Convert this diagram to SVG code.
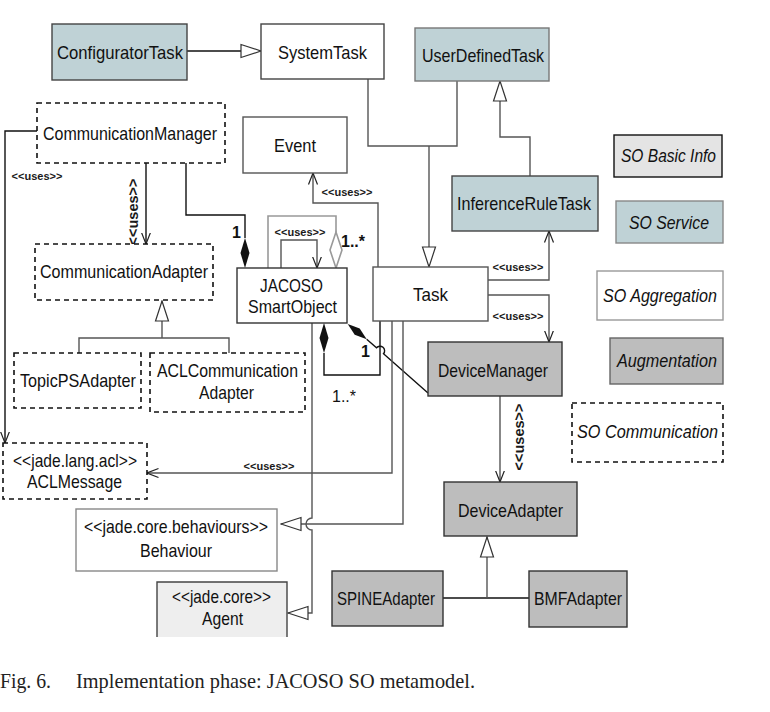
<svg xmlns="http://www.w3.org/2000/svg" width="770" height="712" viewBox="0 0 770 712">
<style>
  .t{font-family:"Liberation Sans",Arial,sans-serif;font-size:19px;fill:#111;text-anchor:middle}
  .i{font-style:italic}
  .u{font-family:"Liberation Sans",Arial,sans-serif;font-size:11px;font-weight:bold;fill:#1a1a1a;text-anchor:middle}
  .ur{font-family:"Liberation Sans",Arial,sans-serif;font-size:14.5px;font-weight:bold;fill:#1a1a1a;text-anchor:middle}
  .m{font-family:"Liberation Sans",Arial,sans-serif;font-size:16px;font-weight:bold;fill:#111}
  .mr{font-family:"Liberation Sans",Arial,sans-serif;font-size:16px;fill:#111}
  .teal{fill:#bfd2d6;stroke:#444;stroke-width:1.4}
  .gray{fill:#bdbdbd;stroke:#333;stroke-width:1.4}
  .white{fill:#fff;stroke:#444;stroke-width:1.4}
  .dash{fill:#fff;stroke:#111;stroke-width:1.6;stroke-dasharray:5 4}
  .c{fill:none;stroke:#555;stroke-width:1.4}
  .k{fill:none;stroke:#111;stroke-width:1.4}
  .cap{font-family:"Liberation Serif","Times New Roman",serif;font-size:21px;fill:#222}
</style>
<defs>
  <marker id="open" viewBox="0 0 12 12" refX="11.5" refY="6" markerWidth="12" markerHeight="12" markerUnits="userSpaceOnUse" orient="auto">
    <path d="M0,1.5 L11.5,6 L0,10.5" fill="none" stroke="#222" stroke-width="1.2"/>
  </marker>
  <marker id="tri" viewBox="0 0 22 16" refX="21" refY="8" markerWidth="22" markerHeight="16" markerUnits="userSpaceOnUse" orient="auto">
    <path d="M1,1.5 L21,8 L1,14.5 Z" fill="#fff" stroke="#333" stroke-width="1.2"/>
  </marker>
</defs>
<rect width="770" height="712" fill="#fff"/>

<g id="connectors">
  <path class="k" d="M187,51 H261" marker-end="url(#tri)"/>
  <path class="c" d="M368,79 V146 H457 V81"/>
  <path class="c" d="M429,146 V267" marker-end="url(#tri)"/>
  <path class="c" d="M530,176 V137 H500 V81" marker-end="url(#tri)"/>
  <path class="k" d="M37,131 H5 V443" marker-end="url(#open)"/>
  <path class="k" d="M146,163 V244" marker-end="url(#open)"/>
  <path class="k" d="M186,163 V215 H245 V238"/>
  <polygon points="245,268 249.5,253 245,238 240.5,253" fill="#111"/>
  <path class="c" d="M281,268 V240 H317 V268" marker-end="url(#open)"/>
  <path fill="none" stroke="#999" stroke-width="1.6" d="M268,268 V216 H336 V232"/>
  <polygon points="336,268 342,250 336,232 330,250" fill="#fff" stroke="#999" stroke-width="1.6"/>
  <path class="c" d="M378,267 V203 H313 V173" marker-end="url(#open)"/>
  <polygon points="324,323 328.5,338 324,353 319.5,338" fill="#111"/>
  <path class="k" d="M324,353 V375 H380 V321"/>
  <polygon points="347.7,324 354.7,334.7 366.7,339.3 359.7,328.5" fill="#111"/>
  <path class="k" d="M366.7,339.3 L376.5,347.8 A4,4 0 0 1 383.5,353.8 L428,393"/>
  <path class="c" d="M488,280 H549 V231" marker-end="url(#open)"/>
  <path class="c" d="M488,295 H549 V342" marker-end="url(#open)"/>
  <path class="c" d="M392,321 V473 H147" marker-end="url(#open)"/>
  <path class="c" d="M403,321 V524 H281" marker-end="url(#tri)"/>
  <path class="c" d="M312,323 V518 A6,6 0 0 0 312,530 V613 H288" marker-end="url(#tri)"/>
  <path class="c" d="M500,396 V482" marker-end="url(#open)"/>
  <path class="k" d="M443,598 H529"/>
  <path class="c" d="M487,598 V537" marker-end="url(#tri)"/>
  <path class="c" d="M79,353 V338 H229 V353"/>
  <path class="c" d="M162,338 V301" marker-end="url(#tri)"/>

  <text class="u" x="37" y="180">&lt;&lt;uses&gt;&gt;</text>
  <text class="ur" transform="translate(138,212) rotate(-90)">&lt;&lt;uses&gt;&gt;</text>
  <text class="u" x="347" y="196">&lt;&lt;uses&gt;&gt;</text>
  <text class="u" x="300" y="236">&lt;&lt;uses&gt;&gt;</text>
  <text class="u" x="518" y="271">&lt;&lt;uses&gt;&gt;</text>
  <text class="u" x="518" y="320">&lt;&lt;uses&gt;&gt;</text>
  <text class="u" x="269" y="470">&lt;&lt;uses&gt;&gt;</text>
  <text class="ur" transform="translate(524,437) rotate(-90)">&lt;&lt;uses&gt;&gt;</text>
  <text class="m" x="232" y="238">1</text>
  <text class="m" x="341" y="247">1..*</text>
  <text class="m" x="361" y="357">1</text>
  <text class="mr" x="332" y="402">1..*</text>
</g>

<g id="ConfiguratorTask">
  <rect class="teal" x="52" y="24" width="135" height="56"/>
  <text class="t" x="120" y="59" textLength="126" lengthAdjust="spacingAndGlyphs">ConfiguratorTask</text>
</g>
<g id="SystemTask">
  <rect class="white" x="261" y="24" width="123" height="55"/>
  <text class="t" x="322.5" y="59" textLength="89" lengthAdjust="spacingAndGlyphs">SystemTask</text>
</g>
<g id="UserDefinedTask">
  <rect class="teal" x="415" y="28" width="134" height="53" style="stroke:#777"/>
  <text class="t" x="483" y="62" textLength="122" lengthAdjust="spacingAndGlyphs">UserDefinedTask</text>
</g>
<g id="CommunicationManager">
  <rect class="dash" x="37" y="103" width="188" height="60"/>
  <text class="t" x="130" y="140" textLength="174" lengthAdjust="spacingAndGlyphs">CommunicationManager</text>
</g>
<g id="Event">
  <rect class="white" x="243" y="117" width="104" height="56" style="stroke:#555"/>
  <text class="t" x="295" y="152" textLength="42" lengthAdjust="spacingAndGlyphs">Event</text>
</g>
<g id="SOBasicInfo">
  <rect x="614" y="135" width="108" height="42" fill="#e4e4e4" stroke="#111" stroke-width="1.4"/>
  <text class="t i" x="668.5" y="162" textLength="95" lengthAdjust="spacingAndGlyphs">SO Basic Info</text>
</g>
<g id="InferenceRuleTask">
  <rect class="teal" x="452" y="176" width="146" height="55"/>
  <text class="t" x="524" y="210" textLength="134" lengthAdjust="spacingAndGlyphs">InferenceRuleTask</text>
</g>
<g id="SOService">
  <rect class="teal" x="616" y="201" width="107" height="42" style="stroke:#888"/>
  <text class="t i" x="669" y="229" textLength="80" lengthAdjust="spacingAndGlyphs">SO Service</text>
</g>
<g id="CommunicationAdapter">
  <rect class="dash" x="35" y="244" width="178" height="56"/>
  <text class="t" x="124" y="278" textLength="168" lengthAdjust="spacingAndGlyphs">CommunicationAdapter</text>
</g>
<g id="JACOSOSmartObject">
  <rect class="white" x="237" y="268" width="110" height="55" style="stroke:#333"/>
  <text class="t" x="291.5" y="292" textLength="63" lengthAdjust="spacingAndGlyphs">JACOSO</text>
  <text class="t" x="292.5" y="313" textLength="89" lengthAdjust="spacingAndGlyphs">SmartObject</text>
</g>
<g id="Task">
  <rect class="white" x="373" y="267" width="115" height="54" style="stroke:#555"/>
  <text class="t" x="430.5" y="301" textLength="35" lengthAdjust="spacingAndGlyphs">Task</text>
</g>
<g id="SOAggregation">
  <rect x="597" y="271" width="126" height="49" fill="#fff" stroke="#999" stroke-width="1.4"/>
  <text class="t i" x="660" y="302" textLength="114" lengthAdjust="spacingAndGlyphs">SO Aggregation</text>
</g>
<g id="DeviceManager">
  <rect class="gray" x="428" y="342" width="134" height="54"/>
  <text class="t" x="493" y="377" textLength="110" lengthAdjust="spacingAndGlyphs">DeviceManager</text>
</g>
<g id="Augmentation">
  <rect class="gray" x="610" y="338" width="113" height="46" style="stroke:#666"/>
  <text class="t i" x="667" y="367" textLength="100" lengthAdjust="spacingAndGlyphs">Augmentation</text>
</g>
<g id="TopicPSAdapter">
  <rect class="dash" x="14" y="353" width="127" height="55"/>
  <text class="t" x="78" y="387" textLength="116" lengthAdjust="spacingAndGlyphs">TopicPSAdapter</text>
</g>
<g id="ACLCommunicationAdapter">
  <rect class="dash" x="150" y="353" width="155" height="59"/>
  <text class="t" x="227.5" y="377" textLength="141" lengthAdjust="spacingAndGlyphs">ACLCommunication</text>
  <text class="t" x="226.5" y="399" textLength="55" lengthAdjust="spacingAndGlyphs">Adapter</text>
</g>
<g id="SOCommunication">
  <rect class="dash" x="572" y="403" width="151" height="59"/>
  <text class="t i" x="647.5" y="438" textLength="141" lengthAdjust="spacingAndGlyphs">SO Communication</text>
</g>
<g id="ACLMessage">
  <rect class="dash" x="3" y="443" width="144" height="56"/>
  <text class="t" x="75" y="467" textLength="124" lengthAdjust="spacingAndGlyphs">&lt;&lt;jade.lang.acl&gt;&gt;</text>
  <text class="t" x="74.5" y="488" textLength="95" lengthAdjust="spacingAndGlyphs">ACLMessage</text>
</g>
<g id="Behaviour">
  <rect x="76" y="509" width="201" height="62" fill="#fff" stroke="#888" stroke-width="1.4"/>
  <text class="t" x="176" y="533" textLength="184" lengthAdjust="spacingAndGlyphs">&lt;&lt;jade.core.behaviours&gt;&gt;</text>
  <text class="t" x="176" y="557" textLength="72" lengthAdjust="spacingAndGlyphs">Behaviour</text>
</g>
<g id="Agent">
  <rect x="157" y="582" width="130" height="55" fill="#eeeeee"/>
  <path d="M157,637 V582 H287 V637" fill="none" stroke="#444" stroke-width="1.4"/>
  <text class="t" x="221.5" y="603" textLength="99" lengthAdjust="spacingAndGlyphs">&lt;&lt;jade.core&gt;&gt;</text>
  <text class="t" x="222.5" y="625" textLength="41" lengthAdjust="spacingAndGlyphs">Agent</text>
</g>
<g id="DeviceAdapter">
  <rect class="gray" x="444" y="482" width="133" height="54"/>
  <text class="t" x="510.5" y="517" textLength="105" lengthAdjust="spacingAndGlyphs">DeviceAdapter</text>
</g>
<g id="SPINEAdapter">
  <rect class="gray" x="332" y="571" width="111" height="55"/>
  <text class="t" x="386" y="605" textLength="98" lengthAdjust="spacingAndGlyphs">SPINEAdapter</text>
</g>
<g id="BMFAdapter">
  <rect class="gray" x="529" y="571" width="98" height="56"/>
  <text class="t" x="578" y="605" textLength="88" lengthAdjust="spacingAndGlyphs">BMFAdapter</text>
</g>

<g id="caption">
  <text class="cap" x="0" y="688" textLength="51" lengthAdjust="spacingAndGlyphs">Fig. 6.</text>
  <text class="cap" x="76" y="688" textLength="399" lengthAdjust="spacingAndGlyphs">Implementation phase: JACOSO SO metamodel.</text>
</g>
</svg>
